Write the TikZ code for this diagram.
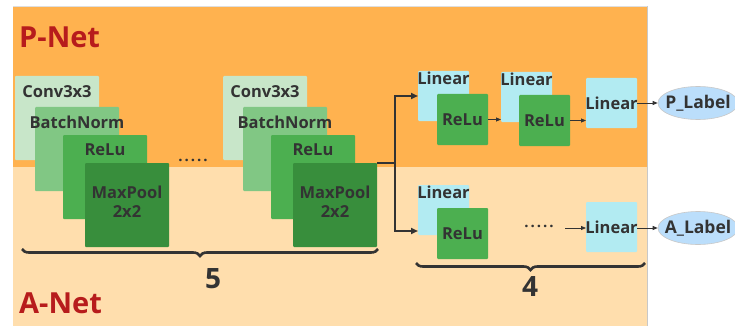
\documentclass[tikz,border=0pt]{standalone}
\usepackage{fontspec}
\setmainfont{Open Sans}
\usetikzlibrary{shapes.geometric,decorations.pathreplacing,arrows.meta}
\definecolor{topbg}{HTML}{FFB24F}
\definecolor{botbg}{HTML}{FFDEAD}
\definecolor{netred}{HTML}{B71C1C}
\definecolor{ink}{HTML}{333333}
\definecolor{gA}{HTML}{C8E6C9}
\definecolor{gB}{HTML}{81C784}
\definecolor{gC}{HTML}{4CAF50}
\definecolor{gD}{HTML}{388E3C}
\definecolor{lin}{HTML}{B2EBF2}
\definecolor{lab}{HTML}{BBDEFB}
\definecolor{edge}{HTML}{C8C8C8}
\begin{document}
\begin{tikzpicture}[x=1pt,y=-1pt,
  box/.style={anchor=north west, inner sep=0, outer sep=0, draw=none, rounded corners=1pt},
  big/.style={box, minimum width=84pt, minimum height=84pt},
  small/.style={box, minimum width=51pt, minimum height=50pt},
  txt/.style={font=\bfseries\fontsize{16.5}{19}\selectfont, text=ink, inner sep=0, align=center},
  nettxt/.style={font=\bfseries\fontsize{29}{32}\selectfont, text=netred, inner sep=0, anchor=west},
  numtxt/.style={font=\bfseries\fontsize{28}{30}\selectfont, text=ink, inner sep=0},
  labl/.style={ellipse, fill=lab, draw=edge, line width=0.6pt, minimum width=80pt, minimum height=33pt, inner sep=0, font=\bfseries\fontsize{17.5}{19}\selectfont, text=ink},
  mainarr/.style={draw=ink, line width=1.8pt, -{Triangle[length=7pt,width=6pt]}},
  smallarr/.style={draw=ink, line width=0.8pt, -{Triangle[length=5pt,width=4pt]}},
  brc/.style={draw=ink, line width=2.6pt, decorate, decoration={brace, mirror, amplitude=7pt}},
  dots/.style={font=\bfseries\fontsize{15}{17}\selectfont, text=ink, inner sep=0}
]
\useasboundingbox (0,0) rectangle (735,326);
% backgrounds
\fill[white] (0,0) rectangle (735,326);
\fill[topbg] (13,6) rectangle (647,167);
\fill[botbg] (13,167) rectangle (647,326);
\draw[edge, line width=0.6pt] (647,6) -- (647,326);
\draw[edge!60, line width=0.6pt] (13,6) -- (647,6);

\node[nettxt] (pnet) at (19,37) {P-Net};
\node[nettxt] (anet) at (19,303) {A-Net};

% group 1
\node[big, fill=gA] (c1) at (15,76) {};
\node[big, fill=gB] (b1) at (35,107) {};
\node[big, fill=gC] (r1) at (63,135) {};
\node[big, fill=gD] (m1) at (85,163) {};
\node[txt] (c1t) at ([yshift=-16pt]c1.north) {Conv3x3};
\node[txt] (b1t) at ([yshift=-15pt]b1.north) {BatchNorm};
\node[txt] (r1t) at ([yshift=-15pt]r1.north) {ReLu};
\node[txt] (m1t) at ([yshift=3pt]m1.center) {MaxPool\\2x2};

\node[dots] (d1) at (193,160) {.\kern2pt.\kern2pt.\kern2pt.\kern2pt.};

% group 2
\node[big, fill=gA] (c2) at (223,76) {};
\node[big, fill=gB] (b2) at (243,107) {};
\node[big, fill=gC] (r2) at (271,135) {};
\node[big, fill=gD] (m2) at (293,163) {};
\node[txt] (c2t) at ([yshift=-16pt]c2.north) {Conv3x3};
\node[txt] (b2t) at ([yshift=-15pt]b2.north) {BatchNorm};
\node[txt] (r2t) at ([yshift=-15pt]r2.north) {ReLu};
\node[txt] (m2t) at ([yshift=3pt]m2.center) {MaxPool\\2x2};

% brace 5
\coordinate (bs1) at (22,249);
\coordinate (be1) at (378,249);
\draw[brc] (bs1) -- (be1);
\node[numtxt] (five) at (213,279) {5};

% top branch
\node[small, fill=lin] (l1) at (418,71) {};
\node[txt, anchor=north] (l1t) at ([yshift=-1pt]l1.north) {Linear};
\node[small, fill=gC, minimum height=51pt] (q1) at (437,94) {};
\node[txt] (q1t) at (q1.center) {ReLu};
\node[small, fill=lin] (l2) at (501,72) {};
\node[txt, anchor=north] (l2t) at ([yshift=-1pt]l2.north) {Linear};
\node[small, fill=gC, minimum height=51pt] (q2) at (519,95) {};
\node[txt] (q2t) at (q2.center) {ReLu};
\node[small, fill=lin] (l3) at (586,78) {};
\node[txt] (l3t) at (l3.center) {Linear};
\node[labl] (pl) at (698,103) {\makebox[0pt]{P\_Label}};

% bottom branch
\node[small, fill=lin] (l4) at (418,185) {};
\node[txt, anchor=north] (l4t) at ([yshift=-1pt]l4.north) {Linear};
\node[small, fill=gC, minimum height=51pt] (q4) at (437,208) {};
\node[txt] (q4t) at (q4.center) {ReLu};
\node[dots] (d2) at (539,226) {.\kern2pt.\kern2pt.\kern2pt.\kern2pt.};
\coordinate (dst) at (565,228);
\node[small, fill=lin] (l5) at (586,202) {};
\node[txt] (l5t) at (l5.center) {Linear};
\node[labl] (al) at (698,228) {\makebox[0pt]{A\_Label}};

% connectors
\coordinate (split) at (396,163);
\draw[draw=ink, line width=1.8pt] (m2.north east) -- (split);
\draw[mainarr] ([xshift=-0.9pt]split) |- (l1.west);
\draw[mainarr] ([xshift=-0.9pt]split) |- ([yshift=4pt]l4.south west);
\draw[smallarr] (q1.east) -- (l2.west |- q1.east);
\draw[smallarr] (q2.east) -- (l3.west |- q2.east);
\draw[smallarr] (l3.east) -- (pl.west);
\draw[smallarr] (dst) -- (l5.west |- dst);
\draw[smallarr] (l5.east |- al.west) -- (al.west);

% brace 4
\coordinate (bs2) at (416,263);
\coordinate (be2) at (645,263);
\draw[brc] (bs2) -- (be2);
\node[numtxt] (four) at (530,287) {4};
\end{tikzpicture}
\end{document}
